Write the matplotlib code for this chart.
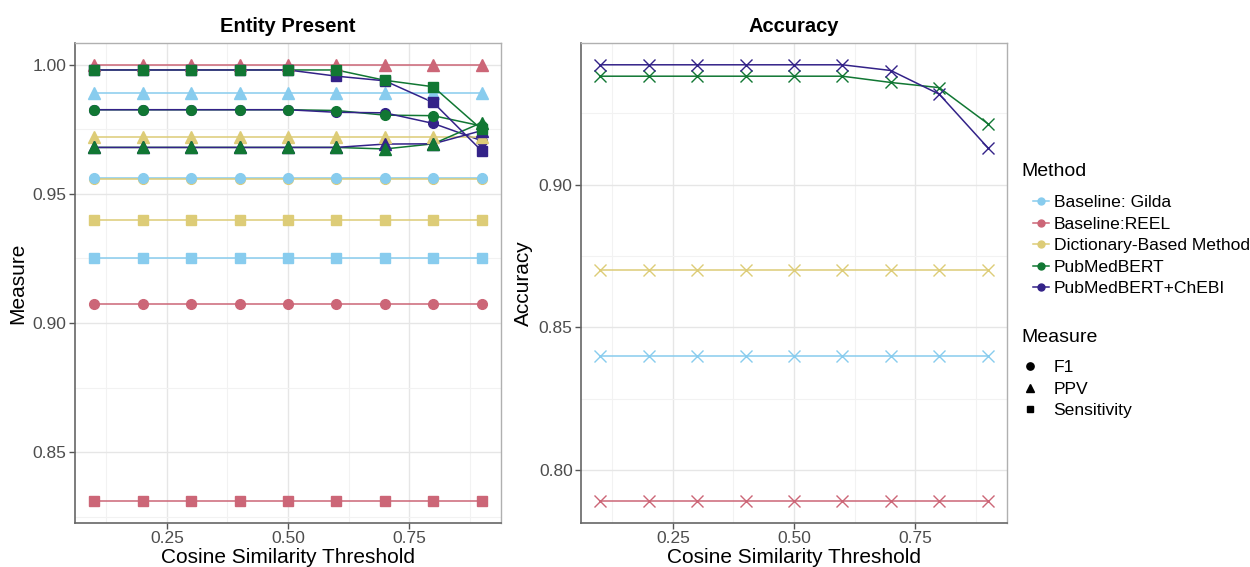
import numpy as np
import matplotlib
matplotlib.use('Agg')
import matplotlib.pyplot as plt
from matplotlib.lines import Line2D
from matplotlib.ticker import MultipleLocator

plt.rcParams['font.family'] = ['Liberation Sans', 'DejaVu Sans']

thresholds = [0.1, 0.2, 0.3, 0.4, 0.5, 0.6, 0.7, 0.8, 0.9]

methods = ['Baseline: Gilda', 'Baseline:REEL', 'Dictionary-Based Method',
           'PubMedBERT', 'PubMedBERT+ChEBI']
colors = ['#88CCEE', '#CC6677', '#DDCC77', '#117733', '#332288']

# Entity Present panel
f1 = {
    'Baseline: Gilda': [0.956, 0.956, 0.956, 0.956, 0.956, 0.956, 0.956, 0.956, 0.956],
    'Baseline:REEL': [0.9075, 0.9075, 0.9075, 0.9075, 0.9075, 0.9075, 0.9075, 0.9075, 0.9075],
    'Dictionary-Based Method': [0.9558, 0.9558, 0.9558, 0.9558, 0.9558, 0.9558, 0.9558, 0.9558, 0.9558],
    'PubMedBERT': [0.9826, 0.9826, 0.9826, 0.9826, 0.9826, 0.9823, 0.9805, 0.9803, 0.9763],
    'PubMedBERT+ChEBI': [0.9826, 0.9826, 0.9826, 0.9826, 0.9826, 0.9816, 0.9814, 0.9773, 0.9706],
}
ppv = {
    'Baseline: Gilda': [0.989, 0.989, 0.989, 0.989, 0.989, 0.989, 0.989, 0.989, 0.989],
    'Baseline:REEL': [1.0, 1.0, 1.0, 1.0, 1.0, 1.0, 1.0, 1.0, 1.0],
    'Dictionary-Based Method': [0.972, 0.972, 0.972, 0.972, 0.972, 0.972, 0.972, 0.972, 0.972],
    'PubMedBERT': [0.968, 0.968, 0.968, 0.968, 0.968, 0.968, 0.9674, 0.9694, 0.9776],
    'PubMedBERT+ChEBI': [0.968, 0.968, 0.968, 0.968, 0.968, 0.968, 0.9693, 0.9694, 0.9745],
}
sens = {
    'Baseline: Gilda': [0.925, 0.925, 0.925, 0.925, 0.925, 0.925, 0.925, 0.925, 0.925],
    'Baseline:REEL': [0.831, 0.831, 0.831, 0.831, 0.831, 0.831, 0.831, 0.831, 0.831],
    'Dictionary-Based Method': [0.940, 0.940, 0.940, 0.940, 0.940, 0.940, 0.940, 0.940, 0.940],
    'PubMedBERT': [0.998, 0.998, 0.998, 0.998, 0.998, 0.998, 0.994, 0.9915, 0.975],
    'PubMedBERT+ChEBI': [0.998, 0.998, 0.998, 0.998, 0.998, 0.9956, 0.9938, 0.9854, 0.9667],
}

# Accuracy panel
accuracy = {
    'Baseline: Gilda': [0.84, 0.84, 0.84, 0.84, 0.84, 0.84, 0.84, 0.84, 0.84],
    'Baseline:REEL': [0.789, 0.789, 0.789, 0.789, 0.789, 0.789, 0.789, 0.789, 0.789],
    'Dictionary-Based Method': [0.87, 0.87, 0.87, 0.87, 0.87, 0.87, 0.87, 0.87, 0.87],
    'PubMedBERT': [0.938, 0.938, 0.938, 0.938, 0.938, 0.938, 0.9358, 0.934, 0.9214],
    'PubMedBERT+ChEBI': [0.942, 0.942, 0.942, 0.942, 0.942, 0.942, 0.940, 0.9317, 0.913],
}

measures = [('F1', f1, 'o', 7), ('PPV', ppv, '^', 8), ('Sensitivity', sens, 's', 6.5)]
point_order = ['Baseline:REEL', 'Dictionary-Based Method', 'PubMedBERT+ChEBI',
               'Baseline: Gilda', 'PubMedBERT']
col = dict(zip(methods, colors))


def style_axes(ax, title, ylabel):
    ax.set_title(title, fontsize=14.5, fontweight='bold', pad=8)
    ax.set_xlabel('Cosine Similarity Threshold', fontsize=15, labelpad=1)
    ax.set_ylabel(ylabel, fontsize=15, labelpad=4)
    ax.xaxis.set_minor_locator(MultipleLocator(0.125))
    ax.yaxis.set_minor_locator(MultipleLocator(0.025))
    ax.set_xticks([0.25, 0.5, 0.75])
    ax.set_xticklabels(['0.25', '0.50', '0.75'])
    ax.grid(True, which='major', color='#e6e6e6', lw=1.0)
    ax.grid(True, which='minor', color='#f2f2f2', lw=0.8)
    ax.set_axisbelow(True)
    ax.tick_params(which='major', labelsize=12.5, color='#555555', labelcolor='#4d4d4d',
                   length=4, width=1, pad=2)
    ax.tick_params(which='minor', length=0)
    for s in ['left', 'bottom']:
        ax.spines[s].set_color('#666666')
        ax.spines[s].set_linewidth(1.2)
    for s in ['top', 'right']:
        ax.spines[s].set_color('#b0b0b0')
        ax.spines[s].set_linewidth(1.0)
    ax.margins(x=0.05, y=0.05)


fig = plt.figure(figsize=(12.5, 5.67), dpi=100)
ax1 = fig.add_axes([0.060, 0.0776, 0.3408, 0.8466])
ax2 = fig.add_axes([0.4648, 0.0776, 0.3408, 0.8466])

# left: lines first, then points
for name, data, mk, ms in measures:
    for m in methods:
        ax1.plot(thresholds, data[m], color=col[m], lw=1.1, zorder=2)
for name, data, mk, ms in measures:
    for m in point_order:
        ax1.plot(thresholds, data[m], ls='none', marker=mk, ms=ms, color=col[m], zorder=3)

for m in methods:
    ax2.plot(thresholds, accuracy[m], color=col[m], lw=1.1, marker='x', ms=8, mew=1.0)

style_axes(ax1, 'Entity Present', 'Measure')
style_axes(ax2, 'Accuracy', 'Accuracy')
ax1.set_yticks([0.85, 0.90, 0.95, 1.00])
ax1.set_yticklabels(['0.85', '0.90', '0.95', '1.00'])
ax2.set_yticks([0.80, 0.85, 0.90])
ax2.set_yticklabels(['0.80', '0.85', '0.90'])

# legends (titles drawn as text so the keys can sit indented like ggplot)
fig.text(1021 / 1250, 1 - 172 / 567, 'Method', fontsize=14, va='center', ha='left')
method_handles = [Line2D([0], [0], color=c, lw=1.1, marker='o', ms=5) for c in colors]
fig.legend(method_handles, methods, loc='upper left', bbox_to_anchor=(1033 / 1250, 1 - 195 / 567),
           frameon=False, fontsize=12.6, handlelength=0.9, handletextpad=0.3,
           labelspacing=0.36, borderaxespad=0, borderpad=0)

fig.text(1021 / 1250, 1 - 337 / 567, 'Measure', fontsize=14, va='center', ha='left')
measure_handles = [Line2D([0], [0], color='black', ls='none', marker=mk, ms=ms * 0.75)
                   for name, data, mk, ms in measures]
fig.legend(measure_handles, [x[0] for x in measures], loc='upper left',
           bbox_to_anchor=(1020 / 1250, 1 - 360 / 567), frameon=False, fontsize=12.6,
           handlelength=1.1, handletextpad=0.8, labelspacing=0.36,
           borderaxespad=0, borderpad=0)

fig.savefig('out.png', dpi=100)
